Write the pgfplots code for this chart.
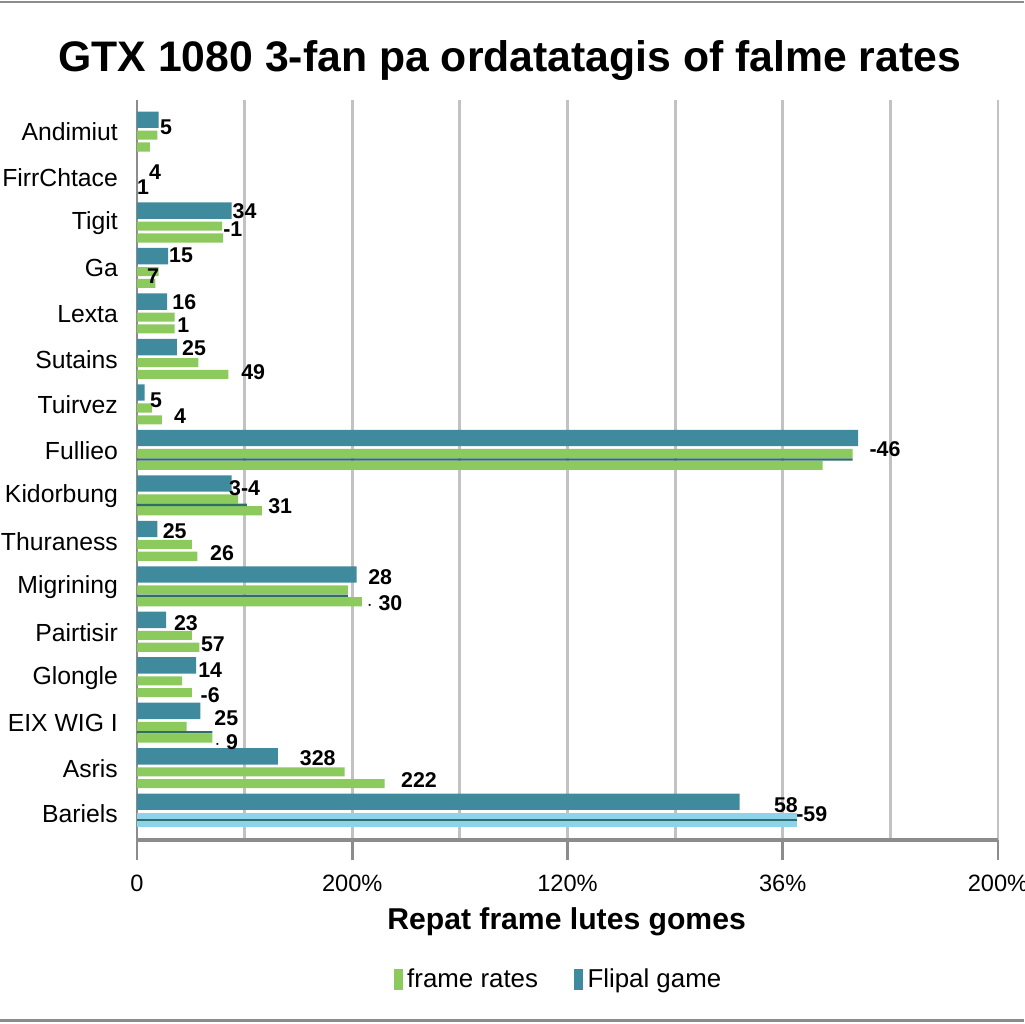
\documentclass[border=0pt]{standalone}
\usepackage{fontspec}
\setmainfont{Liberation Sans}
\usepackage{pgfplots}
\pgfplotsset{compat=1.18}
\definecolor{cteal}{HTML}{3F8A9D}
\definecolor{cgreen}{HTML}{8DCA5E}
\definecolor{cdark}{HTML}{2F6E66}
\definecolor{clblue}{HTML}{8ED3EC}
\definecolor{cgrid}{HTML}{C2C2C2}
\definecolor{caxis}{HTML}{8C8C8C}
\begin{document}
\begin{tikzpicture}
\path[use as bounding box] (0,0) rectangle (16,16);
\draw[caxis, line width=1.2pt] (0,15.97) -- (16,15.97);
\draw[caxis, line width=1.2pt] (0,0.05) -- (16,0.05);
\begin{axis}[
  at={(2.1406cm,2.875cm)}, anchor=south west,
  scale only axis, width=13.453cm, height=11.5625cm,
  xmin=0, xmax=80, ymin=-0.704, ymax=15.57, y dir=reverse,
  xtick={0,20,40,60,80},
  xticklabels={0,200\%,120\%,36\%,200\%},
  minor xtick={10,30,50,70},
  xmajorgrids, xminorgrids,
  major grid style={cgrid, line width=1.3pt},
  minor grid style={cgrid, line width=1.3pt},
  ytick={0,...,15},
  yticklabels={Andimiut,FirrChtace,Tigit,Ga,Lexta,Sutains,Tuirvez,Fullieo,Kidorbung,Thuraness,Migrining,Pairtisir,Glongle,EIX WIG I,Asris,Bariels},
  axis x line=bottom, axis y line=left, axis line style={-},
  x axis line style={draw=caxis, line width=1.8pt},
  y axis line style={draw=caxis, line width=1.2pt},
  ytick style={draw=none},
  xtick style={draw=caxis, line width=1.3pt},
  minor x tick style={draw=none},
  tick align=outside, major tick length=9pt,
  yticklabel style={font=\fontsize{11}{13}\selectfont, xshift=4pt},
  xticklabel style={font=\fontsize{10.5}{12}\selectfont, yshift=-3pt},
  xlabel={\textbf{Repat frame lutes gomes}},
  xlabel style={font=\fontsize{13.4}{15}\selectfont, at={(axis description cs:0.499,-0.111)}, anchor=center},
  title={\textbf{GTX 1080 3-fan pa ordatatagis of falme rates}},
  title style={font=\fontsize{19}{22}\selectfont, at={(axis description cs:0.433,1.035)}, anchor=center, yshift=0pt},
  legend style={at={(axis description cs:0.491,-0.189)}, anchor=center, draw=none,
    legend columns=2, font=\fontsize{11.5}{13}\selectfont,
    /tikz/every even column/.append style={column sep=14pt}},
  legend image code/.code={\fill[#1] (0pt,-4.5pt) rectangle (4pt,5pt);},
  clip=false,
]
\addlegendimage{fill=cgreen, draw=none}
\addlegendentry{frame rates}
\addlegendimage{fill=cteal, draw=none}
\addlegendentry{Flipal game}

% top bar (Flipal game)
\addplot[forget plot, xbar, bar width=0.36, bar shift=-0.27, fill=cteal, draw=none]
  coordinates {(2.0,0) (8.8,2) (2.9,3) (2.8,4) (3.7,5) (0.7,6) (67.0,7) (8.8,8)
               (1.9,9) (20.4,10) (2.7,11) (5.5,12) (5.9,13) (13.1,14) (56.0,15)};
% middle bar (frame rates)
\addplot[forget plot, xbar, bar width=0.2, bar shift=0.07, fill=cgreen, draw=none]
  coordinates {(1.9,0) (7.9,2) (2.0,3) (3.5,4) (5.7,5) (1.4,6) (66.5,7) (9.4,8)
               (5.1,9) (19.6,10) (5.1,11) (4.2,12) (4.6,13) (19.3,14)};
% lower bar (frame rates)
\addplot[forget plot, xbar, bar width=0.2, bar shift=0.33, fill=cgreen, draw=none]
  coordinates {(1.2,0) (8.0,2) (1.7,3) (3.5,4) (8.5,5) (2.3,6) (63.7,7) (11.6,8)
               (5.6,9) (20.9,10) (5.8,11) (5.1,12) (7.0,13) (23.0,14)};
% thin dark separators
\addplot[forget plot, xbar, bar width=0.05, bar shift=0.2, fill=cdark, draw=none]
  coordinates {(66.5,7) (19.6,10) (10.2,8) (7.0,13)};
% Bariels light blue bar
\addplot[forget plot, xbar, bar width=0.3, bar shift=0.13, fill=clblue, draw=none]
  coordinates {(61.3,15)};
\addplot[forget plot, xbar, bar width=0.05, bar shift=0.13, fill=cdark, draw=none]
  coordinates {(61.3,15)};

% value labels
\addplot[forget plot, only marks, mark=none, point meta=explicit symbolic,
  nodes near coords, nodes near coords align=center,
  every node near coord/.append style={font=\fontsize{9.5}{11}\selectfont\bfseries, anchor=center, inner sep=0pt}]
  coordinates {
    (2.7,-0.11)[5] (1.67,0.88)[4] (0.56,1.21)[1]
    (10.0,1.74)[34] (8.9,2.13)[-1]
    (4.1,2.71)[15] (1.5,3.17)[7]
    (4.4,3.74)[16] (4.3,4.24)[1]
    (5.3,4.75)[25] (10.8,5.28)[49]
    (1.77,5.89)[5] (4.0,6.25)[4]
    (69.5,6.97)[-46]
    (10.0,7.83)[3-4] (13.3,8.23)[31]
    (3.5,8.77)[25] (7.9,9.26)[26]
    (22.6,9.80)[28] (23.0,10.36)[$\cdot$ 30]
    (4.55,10.80)[23] (7.06,11.26)[57]
    (6.8,11.83)[14] (6.8,12.38)[-6]
    (8.3,12.89)[25] (8.3,13.42)[$\cdot$ 9]
    (16.8,13.77)[328] (26.2,14.25)[222]
    (60.3,14.80)[58] (62.7,15.0)[-59]
  };
\end{axis}
\end{tikzpicture}
\end{document}
